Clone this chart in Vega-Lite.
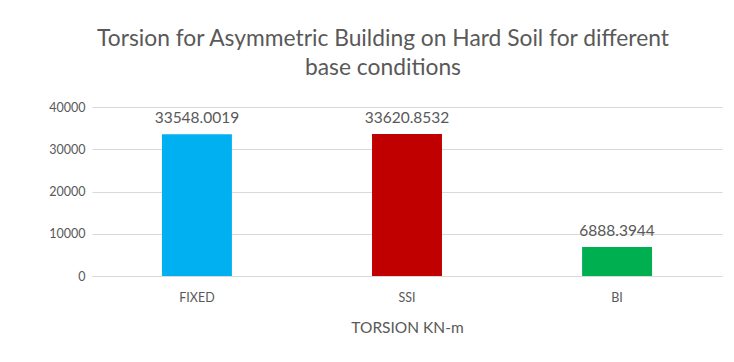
{
  "$schema": "https://vega.github.io/schema/vega-lite/v6.json",
  "autosize": "none",
  "width": 630,
  "height": 169,
  "padding": {"left": 92, "top": 107, "right": 12, "bottom": 86},
  "background": "white",
  "title": {
    "text": ["Torsion for Asymmetric Building on Hard Soil for different", "base conditions"],
    "fontSize": 22.8,
    "fontWeight": "normal",
    "font": "Lato",
    "color": "#595959",
    "lineHeight": 29,
    "anchor": "middle",
    "dx": -24,
    "offset": 21
  },
  "data": {
    "values": [
      {"base": "FIXED", "torsion": 33548.0019, "label": "33548.0019"},
      {"base": "SSI", "torsion": 33620.8532, "label": "33620.8532"},
      {"base": "BI", "torsion": 6888.3944, "label": "6888.3944"}
    ]
  },
  "encoding": {
    "x": {
      "field": "base",
      "type": "nominal",
      "sort": ["FIXED", "SSI", "BI"],
      "scale": {"paddingInner": 0.667, "paddingOuter": 0.333},
      "axis": {
        "title": "TORSION KN-m",
        "labelAngle": 0,
        "labelFont": "Lato",
        "titleFont": "Lato",
        "labelFontSize": 12.5,
        "titleFontSize": 15.5,
        "titleFontWeight": "normal",
        "labelColor": "#595959",
        "titleColor": "#595959",
        "domainColor": "#d9d9d9",
        "ticks": false,
        "labelPadding": 15,
        "titlePadding": 17
      }
    },
    "y": {
      "field": "torsion",
      "type": "quantitative",
      "scale": {"domain": [0, 40000]},
      "axis": {
        "title": null,
        "values": [0, 10000, 20000, 30000, 40000],
        "format": "d",
        "labelFont": "Lato",
        "labelFontSize": 12.5,
        "labelColor": "#595959",
        "labelOverlap": false,
        "domain": false,
        "ticks": false,
        "labelPadding": 7,
        "gridColor": "#d9d9d9"
      }
    }
  },
  "layer": [
    {
      "mark": {"type": "bar"},
      "encoding": {
        "color": {
          "field": "base",
          "type": "nominal",
          "scale": {"domain": ["FIXED", "SSI", "BI"], "range": ["#00B0F0", "#C00000", "#00B050"]},
          "legend": null
        }
      }
    },
    {
      "mark": {"type": "text", "dy": -16, "font": "Lato", "fontSize": 15.5, "color": "#595959"},
      "encoding": {"text": {"field": "label"}}
    }
  ],
  "config": {"view": {"stroke": null}}
}
